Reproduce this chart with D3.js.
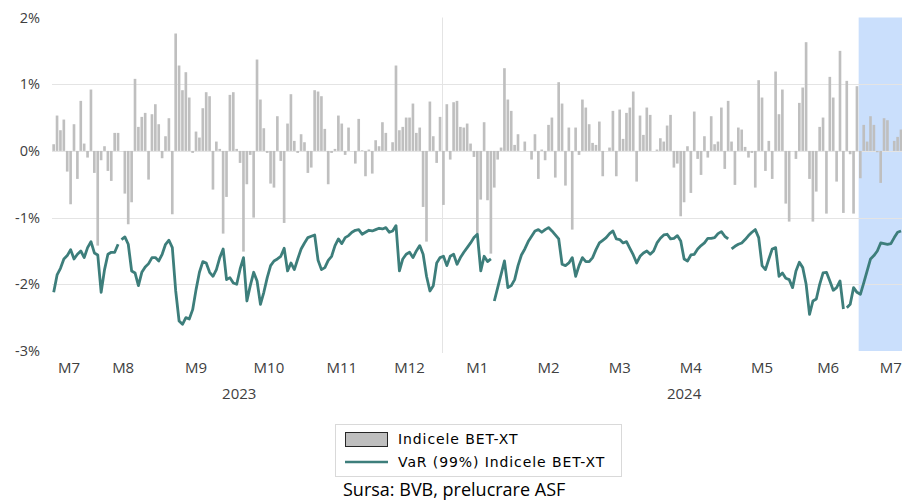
<!DOCTYPE html>
<html>
<head>
<meta charset="utf-8">
<script src="https://cdn.jsdelivr.net/npm/d3@7"></script>
<style>
body{margin:0;background:#fff;}
svg text{font-family:"Open Sans",sans-serif;fill:#404040;}
</style>
</head>
<body>
<svg id="chart" width="902" height="500"></svg>
<script>
/*Data (%), one value per trading day, Jul 2023 - Jul 2024*/
var betxt = [0.1,0.53,0.31,0.47,-0.31,-0.8,0.4,-0.42,0.75,0.11,
  -0.1,0.92,-0.33,-1.42,-0.14,0.07,-0.3,-0.45,0.27,0.27,
  null,-0.64,-1.1,-0.77,1.08,0.36,0.51,0.57,-0.43,0.55,
  0.7,0.4,-0.11,0.22,0.49,-0.95,1.76,1.28,0.91,1.18,
  0.8,-0.03,0.29,0.2,0.64,0.88,0.82,-0.58,0.14,0.03,
  -1.24,-0.69,0.84,0.88,0.03,-0.18,-1.51,-0.5,-0.06,-1.0,
  1.37,0.77,0.34,-0.03,-0.49,-0.55,0.52,-0.15,-1.08,0.41,
  0.85,0.15,-0.03,0.25,0.13,-0.33,-0.25,0.91,0.89,0.82,
  0.33,-0.5,-0.03,0.03,0.53,0.41,-0.06,0.35,0.0,-0.19,
  0.48,0.01,-0.38,0.02,-0.34,0.16,0.07,0.43,0.27,0.0,
  0.13,1.28,0.31,0.36,0.5,0.5,0.71,0.27,0.35,-0.84,
  -1.36,0.74,0.22,-0.18,0.51,-0.81,0.7,-0.13,0.73,0.75,
  0.36,0.35,0.41,0.11,-0.09,-1.24,-0.73,0.43,-0.74,-1.54,
  -0.55,-0.13,0.05,1.24,0.77,0.6,0.09,0.25,0.0,0.14,
  0.0,-0.13,0.25,-0.42,0.02,-0.14,0.39,0.5,-0.4,1.03,
  0.71,-0.52,0.35,-1.18,0.35,-0.06,0.77,0.65,0.4,0.12,
  0.09,0.44,-0.38,0.0,0.05,0.6,-0.38,0.62,0.18,0.57,
  0.65,0.89,-0.46,0.53,0.24,0.65,0.54,0.0,0.02,0.19,
  0.14,0.38,0.54,-0.25,-0.19,-0.98,-0.77,0.07,-0.63,0.59,
  -0.12,-0.36,0.22,-0.1,0.52,0.1,0.14,0.65,-0.27,0.75,
  0.14,-0.51,0.35,0.32,0.06,-0.1,-0.03,-0.55,1.06,0.8,
  -0.3,0.15,-0.42,1.19,0.55,0.92,-0.79,-1.06,0.0,-0.12,
  0.72,0.95,1.63,-0.42,-1.06,-0.61,0.36,0.5,-0.94,1.11,
  0.8,-0.46,1.5,-0.93,1.05,-0.05,-0.94,0.97,-0.41,0.39,
  0.14,0.52,0.39,-0.02,-0.48,0.49,0.46,0.0,0.15,0.21,
  0.32];

var var99 = [-2.12,-1.86,-1.76,-1.62,-1.57,-1.48,-1.62,-1.55,-1.5,-1.6,
  -1.45,-1.36,-1.53,-1.56,-2.12,-1.78,-1.55,-1.52,-1.52,-1.4,
  -1.33,-1.29,-1.4,-1.8,-1.83,-2.02,-1.82,-1.74,-1.69,-1.6,
  -1.6,-1.65,-1.55,-1.4,-1.34,-1.45,-2.1,-2.55,-2.6,-2.5,
  -2.52,-2.38,-2.08,-1.82,-1.66,-1.68,-1.82,-1.88,-1.78,-1.6,
  -1.47,-1.93,-1.9,-1.98,-2.0,-1.77,-1.6,-2.25,-2.02,-1.82,
  -1.95,-2.3,-2.12,-1.9,-1.72,-1.65,-1.62,-1.58,-1.46,-1.8,
  -1.68,-1.78,-1.62,-1.47,-1.38,-1.3,-1.28,-1.26,-1.64,-1.78,
  -1.75,-1.64,-1.58,-1.42,-1.32,-1.39,-1.3,-1.27,-1.22,-1.19,
  -1.18,-1.25,-1.22,-1.19,-1.2,-1.18,-1.16,-1.17,-1.15,-1.22,
  -1.2,-1.12,-1.8,-1.62,-1.55,-1.52,-1.6,-1.5,-1.42,-1.55,
  -1.88,-2.1,-2.02,-1.68,-1.6,-1.58,-1.72,-1.58,-1.55,-1.7,
  -1.6,-1.52,-1.45,-1.38,-1.3,-1.25,-1.8,-1.58,-1.66,-1.62,
  -2.25,-2.05,-1.85,-1.65,-2.05,-2.02,-1.93,-1.72,-1.56,-1.47,
  -1.36,-1.28,-1.2,-1.18,-1.22,-1.18,-1.15,-1.2,-1.26,-1.32,
  -1.7,-1.72,-1.68,-1.6,-1.88,-1.72,-1.6,-1.66,-1.66,-1.6,
  -1.48,-1.38,-1.34,-1.3,-1.24,-1.2,-1.32,-1.33,-1.38,-1.36,
  -1.46,-1.56,-1.68,-1.58,-1.53,-1.5,-1.55,-1.5,-1.38,-1.31,
  -1.26,-1.25,-1.32,-1.31,-1.27,-1.35,-1.62,-1.65,-1.56,-1.55,
  -1.47,-1.42,-1.38,-1.31,-1.31,-1.3,-1.24,-1.21,-1.28,-1.32,
  -1.47,-1.43,-1.4,-1.38,-1.33,-1.27,-1.22,-1.18,-1.3,-1.72,
  -1.78,-1.62,-1.47,-1.45,-1.88,-1.83,-1.91,-1.93,-2.05,-1.8,
  -1.67,-1.75,-2.0,-2.45,-2.25,-2.22,-2.0,-1.83,-1.82,-1.95,
  -2.09,-2.05,-1.95,-2.37,-2.35,-2.3,-2.05,-2.12,-2.15,-1.98,
  -1.8,-1.62,-1.57,-1.5,-1.38,-1.39,-1.4,-1.39,-1.3,-1.22,
  -1.2];

// days where the VaR line starts a new piece (no link to the day before)
var lineBreaks = [20, 130, 200, 234];

/*Axis labels*/
var monthNames = ["M7","M8","M9","M10","M11","M12","M1","M2","M3","M4","M5","M6","M7"];
var monthYears = [2023,2023,2023,2023,2023,2023,2024,2024,2024,2024,2024,2024,2024];
var monthStarts = [0,10,32,53,75,96,115,136,157,178,199,220,238,257];
var highlightMonth = 12;
var yTicks = [2,1,0,-1,-2,-3];

var svg = d3.select("#chart");
var plotL = 52, plotR = 923, plotT = 17.5, plotB = 351;

var x = d3.scaleBand()
    .domain(d3.range(monthStarts[monthStarts.length-1]))
    .range([plotL, plotR])
    .paddingInner(0.22)
    .paddingOuter(0.1);
var step = x.step();
var y = d3.scaleLinear().domain([-3, 2]).range([plotB, plotT]);

function dayX(i){ return plotL + step*i; }
function dayMid(i){ return plotL + step*(i+0.5); }

/*Highlighted month*/
svg.append("rect")
    .attr("x", dayX(monthStarts[highlightMonth]))
    .attr("y", plotT)
    .attr("width", dayX(monthStarts[highlightMonth+1]) - dayX(monthStarts[highlightMonth]))
    .attr("height", plotB - plotT)
    .attr("fill", "#cadffc");

/*Gridlines*/
svg.append("g").selectAll("line")
    .data(yTicks.filter(function(d){ return d < 2 && d > -3; }))
    .enter().append("line")
    .attr("x1", plotL).attr("x2", 902)
    .attr("y1", function(d){ return Math.round(y(d)) + 0.5; })
    .attr("y2", function(d){ return Math.round(y(d)) + 0.5; })
    .attr("stroke", "#e4e4e4");

// year separator
var sepX = Math.round(dayX(monthStarts[monthYears.indexOf(2024)])) + 0.5;
svg.append("line")
    .attr("x1", sepX).attr("x2", sepX)
    .attr("y1", plotT).attr("y2", plotB + 2)
    .attr("stroke", "#e4e4e4");

/*Bars*/
svg.append("g").selectAll("rect")
    .data(betxt.map(function(v, i){ return {i: i, v: v}; }).filter(function(d){ return d.v !== null; }))
    .enter().append("rect")
    .attr("x", function(d){ return x(d.i); })
    .attr("width", x.bandwidth())
    .attr("y", function(d){ return y(Math.max(0, d.v)); })
    .attr("height", function(d){ return Math.abs(y(d.v) - y(0)); })
    .attr("fill", "#bfbfbf");

/*VaR line*/
var pts = [];
var99.forEach(function(v, i){
    if (lineBreaks.indexOf(i) >= 0) pts.push({i: i, v: null});
    pts.push({i: i, v: v});
});
var line = d3.line()
    .defined(function(d){ return d.v !== null; })
    .x(function(d){ return dayMid(d.i); })
    .y(function(d){ return y(d.v); });
svg.append("path")
    .datum(pts)
    .attr("d", line)
    .attr("fill", "none")
    .attr("stroke", "#3d7e7b")
    .attr("stroke-width", 2.8)
    .attr("stroke-linejoin", "round");

/*Y labels*/
svg.append("g").selectAll("text")
    .data(yTicks)
    .enter().append("text")
    .attr("x", 40)
    .attr("y", function(d){ return y(d); })
    .attr("dy", "0.35em")
    .attr("text-anchor", "end")
    .style("font-size", "14.5px")
    .text(function(d){ return d + "%"; });

/*Month labels*/
var monthX = monthNames.map(function(m, k){
    return (dayX(monthStarts[k]) + dayX(monthStarts[k+1])) / 2;
});
svg.append("g").selectAll("text")
    .data(monthNames)
    .enter().append("text")
    .attr("x", function(d, k){ return monthX[k]; })
    .attr("y", 368)
    .attr("dy", "0.35em")
    .attr("text-anchor", "middle")
    .style("font-size", "15px")
    .text(function(d){ return d; });

/*Year labels, centred between the first and last month label of the year*/
var years = d3.groups(monthNames.map(function(m, k){ return {yr: monthYears[k], x: monthX[k]}; }), function(d){ return d.yr; });
svg.append("g").selectAll("text")
    .data(years)
    .enter().append("text")
    .attr("x", function(d){ return (d[1][0].x + d[1][d[1].length-1].x) / 2; })
    .attr("y", 394)
    .attr("dy", "0.35em")
    .attr("text-anchor", "middle")
    .style("font-size", "15px")
    .text(function(d){ return d[0]; });

/*Legend*/
var legend = svg.append("g");
legend.append("rect")
    .attr("x", 335.5).attr("y", 424.5)
    .attr("width", 286).attr("height", 52)
    .attr("fill", "#fff").attr("stroke", "#d9d9d9");
legend.append("rect")
    .attr("x", 345.5).attr("y", 432.5)
    .attr("width", 42).attr("height", 14)
    .attr("fill", "#bfbfbf").attr("stroke", "#262626");
legend.append("line")
    .attr("x1", 345).attr("x2", 388)
    .attr("y1", 462).attr("y2", 462)
    .attr("stroke", "#3d7e7b").attr("stroke-width", 2.5);
legend.append("text")
    .attr("x", 398).attr("y", 439.5).attr("dy", "0.35em")
    .style("font-family", "DejaVu Sans").style("font-size", "14px")
    .style("letter-spacing", "0.9px")
    .style("fill", "#000")
    .text("Indicele BET-XT");
legend.append("text")
    .attr("x", 398).attr("y", 462).attr("dy", "0.35em")
    .style("font-family", "DejaVu Sans").style("font-size", "14px")
    .style("letter-spacing", "0.9px")
    .style("fill", "#000")
    .text("VaR (99%) Indicele BET-XT");

svg.append("text")
    .attr("x", 343).attr("y", 490).attr("dy", "0.35em")
    .style("font-size", "18px")
    .style("fill", "#000")
    .text("Sursa: BVB, prelucrare ASF");
</script>
</body>
</html>
